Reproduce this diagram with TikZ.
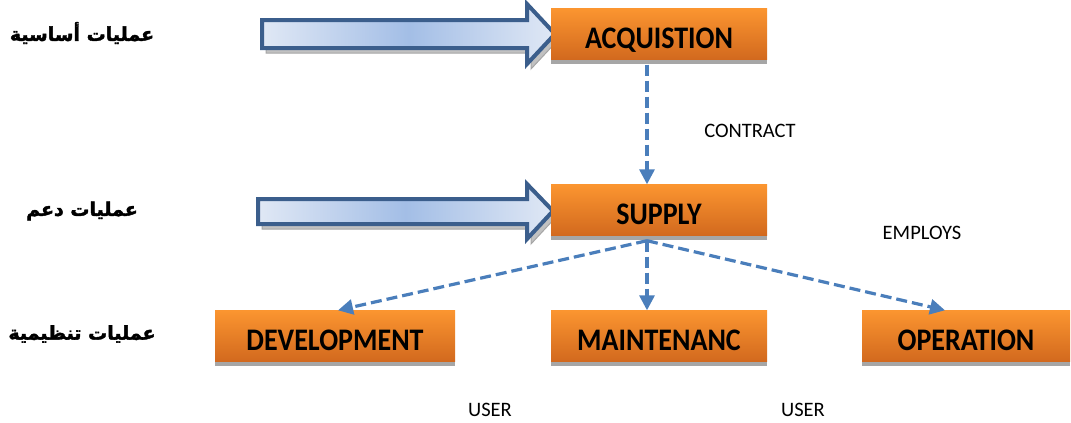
\documentclass[tikz,border=0pt]{standalone}
\usepackage{fontspec}
\setmainfont{Carlito}
\newfontfamily\arabicfont[Script=Arabic, BoldFeatures={FakeBold=2}]{DejaVu Sans}
\TeXXeTstate=1
\usetikzlibrary{arrows.meta,shadows}

\definecolor{boxtop}{HTML}{FB9530}
\definecolor{boxbot}{HTML}{D2691E}
\definecolor{linkblue}{HTML}{4A7EBB}
\definecolor{arrowedge}{HTML}{3B5E8C}
\definecolor{arrowlight}{HTML}{E0E8F5}
\definecolor{arrowmid}{HTML}{A3BEE6}
\definecolor{shadowgray}{HTML}{A6A6A6}

\tikzset{
  procbox/.style={minimum height=51pt, inner sep=0pt,
    text height=28pt, text depth=0pt,
    top color=boxtop, bottom color=boxbot,
    font=\fontsize{28}{32}\selectfont\bfseries,
    drop shadow={shadow xshift=0pt, shadow yshift=-4pt, fill=shadowgray, opacity=1}},
  link/.style={draw=linkblue, line width=3.2pt, dash pattern=on 11pt off 5pt,
    -{Triangle[length=15pt,width=15pt]}},
  tag/.style={font=\fontsize{20.5}{24}\selectfont},
  grouplabel/.style={font=\fontsize{19}{24}\selectfont\arabicfont\bfseries},
  flowarrow/.style={draw=arrowedge, line width=4pt, line join=miter,
    left color=arrowlight, right color=arrowlight, middle color=arrowmid},
  flowshadow/.style={fill=shadowgray!70, draw=shadowgray, line width=1pt},
}
\newcommand{\boxtext}[1]{\scalebox{1}[1.12]{#1}}

\begin{document}
\begin{tikzpicture}[x=1pt,y=-1pt]
\useasboundingbox (0,0) rectangle (1071,423);

% group labels
\node[grouplabel] (lbasic)   at (82,33)  {\beginR عمليات أساسية\endR};
\node[grouplabel] (lsupport) at (82,211) {\beginR عمليات دعم\endR};
\node[grouplabel] (lorg)     at (82,334) {\beginR عمليات تنظيمية\endR};

% broad input arrows
\fill[flowshadow] (266,25) -- (531,25) -- (531,9) -- (559,39) -- (531,69) -- (531,53) -- (266,53) -- cycle;
\path[flowarrow] (262,20) -- (527,20) -- (527,4) -- (555,34) -- (527,64) -- (527,48) -- (262,48) -- cycle;
\fill[flowshadow] (262,204) -- (531,204) -- (531,189) -- (557,216) -- (531,244) -- (531,229) -- (262,229) -- cycle;
\path[flowarrow] (258,199) -- (527,199) -- (527,184) -- (553,211) -- (527,239) -- (527,224) -- (258,224) -- cycle;

% process boxes
\node[procbox, minimum width=216pt] (acq)    at (659,34)  {\boxtext{ACQUISTION}};
\node[procbox, minimum width=216pt] (supply) at (659,210) {\boxtext{SUPPLY}};
\node[procbox, minimum width=240pt] (dev)    at (335,336) {\boxtext{DEVELOPMENT}};
\node[procbox, minimum width=216pt] (maint)  at (659,336) {\boxtext{MAINTENANC}};
\node[procbox, minimum width=208pt] (oper)   at (966,336) {\boxtext{OPERATION}};

% relations
\draw[link] ([xshift=-12pt,yshift=-5pt]acq.south) -- ([xshift=-12pt]supply.north);
\draw[link] ([xshift=-12pt,yshift=-5pt]supply.south) -- ([xshift=3pt]dev.north);
\draw[link] ([xshift=-12pt,yshift=-5pt]supply.south) -- ([xshift=-12pt]maint.north);
\draw[link] ([xshift=-12pt,yshift=-5pt]supply.south) -- ([xshift=-21pt]oper.north);

% relation tags
\node[tag] (tcontract) at (750,131) {CONTRACT};
\node[tag] (temploys)  at (922,233) {EMPLOYS};
\node[tag] (tuser1)    at (490,410) {USER};
\node[tag] (tuser2)    at (803,410) {USER};
\end{tikzpicture}
\end{document}
